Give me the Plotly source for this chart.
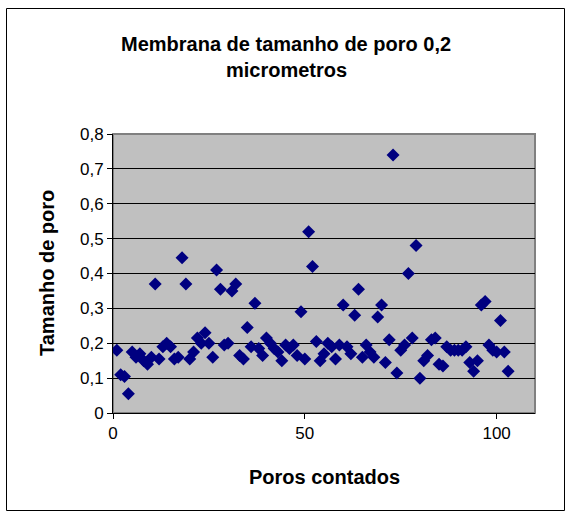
import plotly.graph_objects as go

poros = list(range(1, 104))
tamanho = [
    0.18, 0.11, 0.105, 0.055, 0.175, 0.16, 0.17, 0.15, 0.14, 0.16,
    0.37, 0.155, 0.19, 0.2, 0.19, 0.155, 0.16, 0.445, 0.37, 0.155,
    0.175, 0.215, 0.2, 0.23, 0.2, 0.16, 0.41, 0.355, 0.195, 0.2,
    0.35, 0.37, 0.165, 0.155, 0.245, 0.19, 0.315, 0.185, 0.165, 0.215,
    0.2, 0.185, 0.175, 0.15, 0.195, 0.185, 0.195, 0.165, 0.29, 0.155,
    0.52, 0.42, 0.205, 0.15, 0.17, 0.2, 0.19, 0.155, 0.195, 0.31,
    0.19, 0.17, 0.28, 0.355, 0.16, 0.195, 0.175, 0.16, 0.275, 0.31,
    0.145, 0.21, 0.74, 0.115, 0.18, 0.195, 0.4, 0.215, 0.48, 0.1,
    0.15, 0.165, 0.21, 0.215, 0.14, 0.135, 0.19, 0.18, 0.18, 0.18,
    0.18, 0.19, 0.145, 0.12, 0.15, 0.31, 0.32, 0.195, 0.18, 0.175,
    0.265, 0.175, 0.12,
]
y_ticks = [0, 0.1, 0.2, 0.3, 0.4, 0.5, 0.6, 0.7, 0.8]
y_ticktext = ["0", "0,1", "0,2", "0,3", "0,4", "0,5", "0,6", "0,7", "0,8"]
x_ticks = [0, 50, 100]
x_ticktext = ["0", "50", "100"]

title_lines = ["Membrana de tamanho de poro 0,2", "micrometros"]
x_title = "Poros contados"
y_title = "Tamanho de poro"

FONT = "Liberation Sans, Arial, sans-serif"
W, H = 568, 517
ML, MR, MT, MB = 113, 33, 134, 104
PW = W - ML - MR
PH = H - MT - MB


def px_to_paper_x(px):
    return (px - ML) / PW


def px_to_paper_y(py):
    return (H - MB - py) / PH


fig = go.Figure()
fig.add_trace(go.Scatter(
    x=poros, y=tamanho, mode="markers",
    marker=dict(symbol="diamond", size=10, color="#000080", line=dict(width=0)),
    showlegend=False,
))

shapes = [
    # outer chart frame
    dict(type="rect", xref="paper", yref="paper",
         x0=px_to_paper_x(6.5), x1=px_to_paper_x(564.5),
         y0=px_to_paper_y(510.5), y1=px_to_paper_y(8.5),
         line=dict(color="black", width=1), fillcolor="rgba(0,0,0,0)", layer="below"),
    # plot-area border
    dict(type="rect", xref="paper", yref="paper", x0=0, x1=1, y0=0, y1=1,
         line=dict(color="#808080", width=2), fillcolor="rgba(0,0,0,0)", layer="below"),
]

TS = 20
annotations = [
    dict(text="<b>%s</b>" % title_lines[0], xref="paper", yref="paper",
         x=px_to_paper_x(286), y=px_to_paper_y(44), showarrow=False,
         font=dict(family=FONT, size=TS, color="black"), xanchor="center", yanchor="middle"),
    dict(text="<b>%s</b>" % title_lines[1], xref="paper", yref="paper",
         x=px_to_paper_x(286), y=px_to_paper_y(70), showarrow=False,
         font=dict(family=FONT, size=TS, color="black"), xanchor="center", yanchor="middle"),
    dict(text="<b>%s</b>" % x_title, xref="paper", yref="paper",
         x=px_to_paper_x(324), y=px_to_paper_y(477), showarrow=False,
         font=dict(family=FONT, size=TS, color="black"), xanchor="center", yanchor="middle"),
    dict(text="<b>%s</b>" % y_title, xref="paper", yref="paper",
         x=px_to_paper_x(47), y=px_to_paper_y(273), showarrow=False, textangle=-90,
         font=dict(family=FONT, size=TS, color="black"), xanchor="center", yanchor="middle"),
]

tickfont = dict(family=FONT, size=17, color="black")
fig.update_layout(
    width=W, height=H,
    margin=dict(l=ML, r=MR, t=MT, b=MB, pad=0),
    paper_bgcolor="white", plot_bgcolor="#C0C0C0",
    font=dict(family=FONT, size=17, color="black"),
    shapes=shapes, annotations=annotations,
    xaxis=dict(range=[0, 110], tickvals=x_ticks, ticktext=x_ticktext,
               showgrid=False, zeroline=False, showline=True, linecolor="black", linewidth=1,
               ticks="outside", ticklen=5, tickcolor="black", tickfont=tickfont),
    yaxis=dict(range=[0, 0.8], tickvals=y_ticks, ticktext=y_ticktext,
               showgrid=True, gridcolor="black", gridwidth=1, zeroline=False,
               showline=True, linecolor="black", linewidth=1,
               ticks="outside", ticklen=5, tickcolor="black", tickfont=tickfont),
)

fig.write_html("out.html", config={"displayModeBar": False},
               post_script="document.body.style.margin='0';")
